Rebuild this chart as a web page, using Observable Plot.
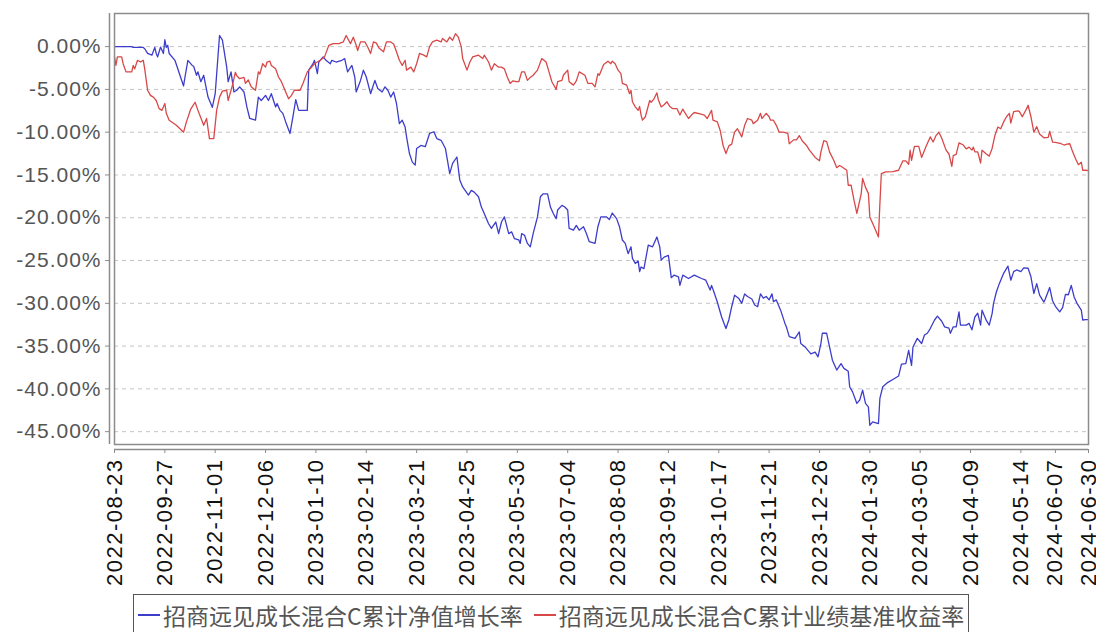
<!DOCTYPE html>
<html><head><meta charset="utf-8">
<script src="https://cdn.jsdelivr.net/npm/d3@7"></script>
<script src="https://cdn.jsdelivr.net/npm/@observablehq/plot@0.6"></script>
<style>
html,body{margin:0;padding:0;background:#fff;}
body{width:1096px;height:632px;overflow:hidden;position:relative;}
#chart{position:absolute;left:0;top:0;}
#chart svg text{letter-spacing:1px;}
#chart svg g.xlab text{letter-spacing:1.5px;}
#legend{position:absolute;left:133px;top:594px;width:836px;height:48px;border:1.5px solid #555;box-sizing:border-box;
  font-family:"Noto Sans CJK SC","Noto Sans",sans-serif;font-size:23px;color:#555;display:flex;
  padding-left:4px;align-items:flex-start;padding-top:5px;line-height:30px;white-space:nowrap;}
#legend .item{display:flex;align-items:center;margin-right:11px;}
#legend .sw{width:22px;height:1.5px;margin-right:3px;}
</style>
</head><body>
<div id="chart"></div>
<div id="legend"></div>
<script>
// ---- data (x = days since 2022-08-23, y = cumulative return in %) ----
const startDate = "2022-08-23";
const endDate = "2024-06-30";
const seriesNames = ["招商远见成长混合C累计净值增长率", "招商远见成长混合C累计业绩基准收益率"];
const seriesColors = ["#3d3dcc", "#d84848"];
const yTickValues = [0, -5, -10, -15, -20, -25, -30, -35, -40, -45];
const xTickLabels = ["2022-08-23","2022-09-27","2022-11-01","2022-12-06","2023-01-10","2023-02-14","2023-03-21","2023-04-25","2023-05-30","2023-07-04","2023-08-08","2023-09-12","2023-10-17","2023-11-21","2023-12-26","2024-01-30","2024-03-05","2024-04-09","2024-05-14","2024-06-07","2024-06-30"];

const fundSeries = [[0,0],[12,0],[13,-0.1],[20,-0.1],[21,-0.25],[23,-0.8],[26,-1.0],[28,-0.1],[29,-0.8],[30,-1.2],[32,-0.05],[34,-0.8],[35,0.8],[36,-0.1],[37,0.15],[38,-0.8],[42,-1.6],[48,-4.6],[49,-3.55],[51,-1.6],[54,-2.2],[55,-2.3],[57,-3.35],[58,-2.95],[60,-4.1],[62,-3.35],[65,-5.9],[68,-7.1],[70,-5.5],[73,1.3],[75,0.75],[78,-2.4],[79,-4.1],[81,-2.95],[83,-5.3],[85,-5.1],[87,-4.7],[90,-5.3],[92,-7.05],[94,-8.4],[98,-8.6],[100,-5.9],[102,-6.3],[105,-5.7],[107,-6.3],[109,-5.5],[112,-7.05],[113,-6.65],[115,-7.45],[117,-7.8],[119,-8.8],[122,-10.15],[124,-8.2],[126,-6.2],[128,-7.45],[134,-7.45],[135,-2.75],[138,-2.0],[139,-1.6],[141,-3.15],[142,-1.8],[145,-1.2],[147,-1.6],[150,-2.0],[151,-1.6],[154,-1.8],[158,-1.6],[160,-1.4],[162,-2.95],[165,-2.2],[167,-3.55],[168,-5.3],[171,-3.95],[173,-2.75],[175,-3.55],[178,-5.5],[181,-3.95],[183,-4.9],[186,-5.3],[188,-4.7],[190,-5.1],[192,-5.9],[194,-5.3],[196,-6.65],[198,-9.0],[200,-8.6],[202,-9.4],[203,-10.55],[205,-12.5],[207,-13.5],[209,-13.85],[210,-11.9],[213,-11.55],[216,-11.7],[219,-10.15],[222,-9.95],[224,-10.75],[227,-10.95],[230,-11.9],[233,-14.85],[235,-13.65],[238,-12.9],[240,-15.6],[242,-16.4],[246,-17.35],[248,-16.8],[250,-17.0],[253,-17.55],[255,-18.75],[257,-19.5],[260,-20.7],[262,-21.25],[265,-20.5],[267,-21.85],[269,-20.5],[271,-19.9],[274,-21.85],[276,-21.65],[278,-22.45],[281,-22.6],[282,-23.0],[283,-21.85],[285,-22.05],[287,-23.0],[289,-23.4],[291,-21.85],[294,-19.9],[296,-17.55],[298,-17.2],[301,-17.2],[303,-18.75],[305,-19.5],[307,-20.1],[308,-19.1],[311,-18.55],[313,-18.75],[315,-19.1],[316,-21.25],[319,-21.45],[321,-20.9],[323,-21.45],[326,-21.05],[328,-21.85],[330,-22.8],[334,-23.0],[336,-21.05],[338,-19.9],[342,-19.9],[344,-20.2],[346,-19.45],[349,-20.1],[351,-21.05],[353,-22.6],[355,-23.0],[357,-24.2],[359,-23.4],[360,-24.75],[362,-25.35],[364,-25.05],[365,-26.3],[366,-25.75],[368,-25.95],[371,-23.2],[374,-23.4],[377,-22.25],[379,-23.4],[380,-24.95],[382,-24.6],[385,-24.4],[387,-27.0],[389,-26.7],[392,-26.9],[393,-27.9],[395,-26.7],[399,-27.1],[403,-26.7],[408,-27.1],[411,-27.3],[414,-28.45],[415,-27.9],[417,-28.85],[419,-29.85],[422,-31.6],[425,-32.95],[427,-31.95],[429,-30.4],[431,-29.05],[434,-29.45],[436,-30.0],[438,-28.9],[440,-29.2],[443,-29.5],[445,-30.2],[447,-30.4],[449,-28.9],[451,-29.4],[453,-29.2],[455,-29.6],[457,-28.9],[458,-29.8],[460,-29.6],[463,-30.8],[466,-32.35],[467,-32.75],[469,-33.9],[473,-34.1],[476,-33.35],[477,-34.7],[480,-35.1],[483,-35.7],[484,-35.9],[487,-35.7],[489,-36.25],[491,-34.7],[492,-33.5],[495,-33.5],[497,-35.1],[499,-36.65],[502,-37.8],[505,-37.05],[507,-37.6],[510,-37.95],[511,-39.75],[513,-40.35],[516,-41.7],[518,-41.3],[520,-40.15],[522,-41.7],[524,-42.1],[525,-44.25],[527,-43.85],[531,-44.05],[532,-41.1],[534,-39.75],[537,-39.3],[541,-38.9],[545,-38.5],[547,-37.1],[550,-37.05],[552,-35.5],[554,-37.25],[555,-35.1],[558,-34.1],[561,-34.7],[563,-33.7],[565,-33.5],[567,-32.95],[570,-31.95],[572,-31.5],[575,-32.1],[577,-32.75],[580,-32.9],[581,-33.5],[583,-32.75],[585,-32.75],[587,-31.0],[588,-32.55],[592,-32.55],[594,-32.35],[596,-33.1],[598,-31.6],[600,-31.15],[602,-32.55],[603,-30.8],[606,-32.0],[608,-32.55],[610,-31.2],[611,-30.0],[613,-28.65],[615,-27.7],[618,-26.5],[621,-25.65],[623,-27.3],[625,-26.3],[627,-26.1],[630,-26.3],[632,-25.85],[635,-25.9],[637,-26.9],[639,-28.85],[641,-27.7],[643,-29.05],[646,-29.85],[647,-29.5],[650,-28.15],[652,-29.7],[654,-30.35],[657,-31.0],[659,-30.5],[661,-28.95],[663,-29.0],[665,-27.9],[667,-29.25],[669,-30.0],[672,-30.8],[673,-31.95],[675,-31.9],[677,-31.9]];

const benchSeries = [[0,-1.2],[1,-2.2],[2,-1.2],[5,-1.2],[6,-2.0],[8,-2.95],[12,-2.95],[13,-2.2],[14,-2.6],[16,-1.6],[18,-1.8],[20,-1.6],[21,-2.6],[23,-5.1],[25,-5.7],[27,-5.9],[29,-6.3],[31,-7.25],[33,-7.45],[35,-6.65],[36,-7.8],[38,-8.6],[43,-9.2],[48,-10.0],[50,-8.8],[53,-7.3],[56,-6.5],[58,-7.45],[62,-9.2],[64,-8.4],[66,-10.75],[69,-10.75],[71,-7.45],[73,-5.9],[75,-5.2],[78,-5.1],[79,-6.3],[82,-4.5],[84,-3.0],[85,-3.4],[87,-3.75],[90,-3.6],[91,-4.3],[93,-3.9],[95,-4.7],[98,-5.1],[100,-2.95],[101,-3.2],[103,-2.0],[105,-2.4],[106,-1.8],[108,-1.7],[109,-2.2],[112,-2.6],[114,-3.55],[116,-4.1],[119,-5.3],[121,-6.1],[123,-5.7],[125,-5.1],[129,-5.1],[131,-4.3],[134,-2.95],[137,-2.4],[139,-2.0],[143,-1.6],[146,-1.2],[149,0.15],[152,0.35],[156,0.35],[159,0.55],[161,1.3],[164,0.35],[166,1.1],[168,0.15],[169,-0.45],[171,0.55],[174,0.55],[176,-0.05],[178,-0.8],[180,0.55],[182,0.4],[184,-0.2],[187,-0.6],[189,0.55],[192,0.55],[194,0.3],[196,-0.6],[198,-1.6],[200,-2.2],[202,-1.6],[203,-2.75],[206,-2.4],[208,-2.95],[210,-2.0],[212,-0.8],[215,-1.0],[217,-1.2],[219,0],[221,0.55],[224,0.75],[227,0.55],[228,0.95],[231,0.55],[233,1.1],[235,0.75],[237,1.5],[239,1.1],[241,0],[242,-1.4],[245,-2.75],[247,-1.8],[249,-1.2],[253,-1.0],[256,-1.4],[257,-1.0],[260,-1.8],[262,-2.75],[264,-2.0],[267,-2.4],[269,-2.4],[271,-2.6],[273,-3.55],[275,-4.3],[277,-4.0],[279,-4.1],[281,-4.1],[283,-2.95],[285,-2.95],[287,-3.95],[289,-3.6],[291,-3.35],[294,-2.75],[297,-1.4],[300,-1.8],[302,-2.95],[304,-4.1],[307,-5.0],[308,-4.1],[311,-3.95],[312,-3.35],[315,-2.75],[316,-4.1],[319,-4.5],[321,-4.0],[323,-2.95],[327,-3.35],[329,-4.3],[332,-4.3],[334,-4.7],[336,-3.15],[337,-3.35],[340,-2.1],[343,-1.7],[345,-2.0],[346,-1.7],[348,-2.0],[350,-2.75],[352,-3.15],[353,-4.3],[356,-4.5],[358,-5.5],[359,-5.1],[360,-6.45],[362,-7.05],[364,-7.45],[365,-7.0],[366,-8.0],[367,-8.6],[369,-8.2],[372,-6.3],[373,-6.5],[375,-6.1],[377,-5.4],[378,-6.2],[380,-7.05],[382,-6.8],[384,-6.45],[386,-7.0],[388,-7.25],[391,-7.25],[393,-8.0],[395,-7.3],[396,-7.6],[399,-8.4],[401,-8.0],[403,-7.7],[407,-7.85],[410,-8.0],[412,-8.4],[415,-7.45],[416,-8.6],[419,-8.8],[421,-9.8],[423,-11.55],[425,-12.5],[427,-11.6],[429,-11.4],[431,-10.0],[433,-9.6],[436,-10.55],[438,-9.2],[440,-8.4],[443,-8.6],[444,-9.0],[447,-8.6],[449,-7.8],[450,-8.4],[453,-7.8],[455,-8.2],[456,-8.6],[458,-8.6],[460,-9.2],[462,-10.0],[465,-10.0],[468,-10.15],[469,-11.35],[472,-10.9],[474,-10.9],[476,-10.4],[478,-11.0],[481,-11.55],[483,-12.1],[484,-12.3],[487,-12.95],[490,-13.35],[491,-12.3],[493,-11.0],[495,-11.1],[497,-12.3],[500,-13.3],[502,-14.15],[504,-13.9],[506,-14.1],[509,-14.45],[510,-16.2],[512,-16.2],[514,-17.95],[516,-19.5],[519,-17.2],[520,-15.4],[522,-16.45],[524,-17.15],[525,-19.9],[528,-21.05],[531,-22.25],[532,-18.35],[533,-14.85],[536,-14.65],[541,-14.6],[545,-14.45],[548,-13.35],[550,-13.35],[552,-13.75],[553,-12.1],[554,-13.3],[556,-11.65],[559,-11.65],[561,-12.95],[564,-11.7],[567,-10.55],[569,-11.15],[571,-10.4],[573,-10.0],[575,-10.7],[578,-12.1],[580,-12.55],[582,-14.0],[583,-12.75],[585,-12.6],[587,-11.25],[590,-11.5],[592,-11.95],[594,-11.75],[596,-12.1],[597,-11.75],[598,-12.3],[600,-12.3],[602,-13.6],[603,-12.1],[606,-12.55],[608,-12.8],[610,-11.9],[612,-10.35],[614,-9.4],[616,-9.6],[618,-8.8],[620,-8.2],[622,-7.8],[623,-8.95],[625,-7.6],[628,-7.5],[629,-7.6],[631,-8.2],[634,-7.25],[635,-6.85],[637,-8.2],[639,-10.0],[641,-9.35],[643,-10.2],[646,-10.65],[649,-10.6],[650,-9.9],[652,-11.15],[654,-11.2],[658,-11.35],[660,-11.5],[662,-11.4],[664,-11.35],[666,-12.3],[668,-13.1],[670,-13.8],[672,-13.5],[673,-14.45],[675,-14.45],[677,-14.5]];

// ---- build ----
const start = new Date(startDate);
const end = new Date(endDate);
const toRows = (pairs) => pairs.map(([d, v]) => ({date: d3.utcDay.offset(start, d), value: v}));
const fundRows = toRows(fundSeries);
const benchRows = toRows(benchSeries);
const xTicks = xTickLabels.map(s => new Date(s));
const yMin = -46.5, yMax = 3.87;

const chart = Plot.plot({
  width: 1096,
  height: 592,
  marginLeft: 114,
  marginRight: 8,
  marginTop: 13,
  marginBottom: 148,
  style: {fontFamily: "'Liberation Sans', Arial, sans-serif", background: "#fff"},
  x: {type: "utc", domain: [start, end], label: null},
  y: {domain: [yMin, yMax], label: null},
  marks: [
    Plot.ruleY(yTickValues, {stroke: "#c4c4c4", strokeDasharray: "4,4", strokeWidth: 1}),
    Plot.line(fundRows, {x: "date", y: "value", stroke: seriesColors[0], strokeWidth: 1.3}),
    Plot.line(benchRows, {x: "date", y: "value", stroke: seriesColors[1], strokeWidth: 1.3}),
    Plot.frame({stroke: "#8c8c8c", strokeWidth: 1.5}),
    Plot.ruleX([start], {dx: -5, stroke: "#8c8c8c", strokeWidth: 1.5}),
    Plot.ruleY([yMin], {dy: 5, stroke: "#8c8c8c", strokeWidth: 1.5}),
    Plot.axisY(yTickValues, {anchor: "left", tickSize: 4, dx: -5, tickPadding: 4, tickFormat: d => d.toFixed(2) + "%", fontSize: 21, fill: "#555", stroke: "#8c8c8c"}),
    Plot.axisX(xTicks, {anchor: "bottom", tickSize: 4, dy: 5, tickPadding: 5, tickRotate: -90, tickFormat: d3.utcFormat("%Y-%m-%d"), fontSize: 22, fill: "#111", stroke: "#8c8c8c", className: "xlab"})
  ]
});
document.getElementById("chart").appendChild(chart);

const legend = document.getElementById("legend");
seriesNames.forEach((name, i) => {
  const item = document.createElement("div");
  item.className = "item";
  const sw = document.createElement("span");
  sw.className = "sw";
  sw.style.background = seriesColors[i];
  const label = document.createElement("span");
  label.textContent = name;
  item.appendChild(sw);
  item.appendChild(label);
  legend.appendChild(item);
});
</script>
</body></html>
